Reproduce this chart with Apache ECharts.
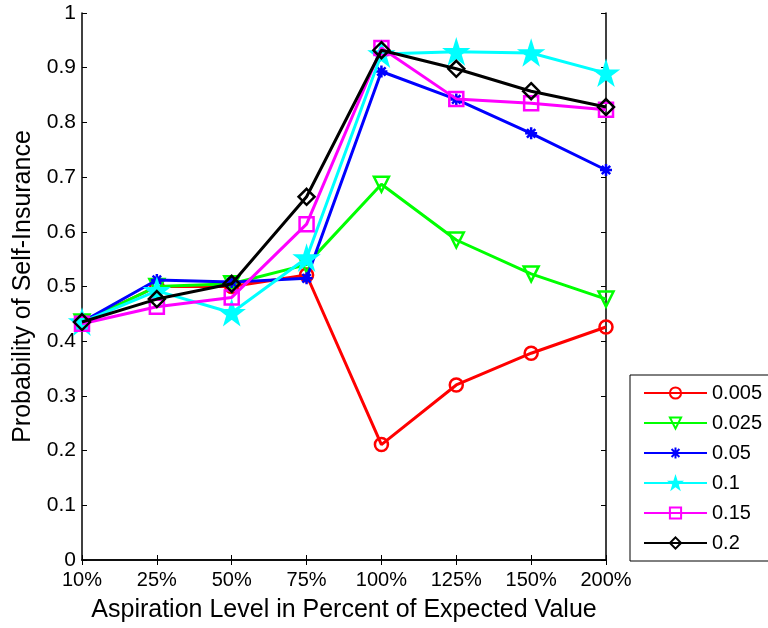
<!DOCTYPE html>
<html><head><meta charset="utf-8">
<script src="https://cdn.jsdelivr.net/npm/echarts@6/dist/echarts.min.js"></script>
<style>html,body{margin:0;padding:0;background:#fff}#c{width:768px;height:628px}</style>
</head><body><div id="c"></div>
<script>
var categories = ['10%','25%','50%','75%','100%','125%','150%','200%'];
var seriesNames = ['0.005','0.025','0.05','0.1','0.15','0.2'];
var s0005 = [0.435,0.500,0.500,0.521,0.211,0.320,0.378,0.426];
var s0025 = [0.435,0.500,0.505,0.540,0.687,0.585,0.523,0.477];
var s005  = [0.435,0.512,0.508,0.515,0.893,0.842,0.780,0.713];
var s01   = [0.435,0.492,0.452,0.552,0.925,0.929,0.927,0.890];
var s015  = [0.432,0.463,0.480,0.614,0.936,0.843,0.835,0.823];
var s02   = [0.435,0.477,0.505,0.664,0.932,0.898,0.857,0.828];
var yTicks = ['0','0.1','0.2','0.3','0.4','0.5','0.6','0.7','0.8','0.9','1'];

var colors = ['#ff0000','#00ff00','#0000ff','#00ffff','#ff00ff','#000000'];
var data = [s0005,s0025,s005,s01,s015,s02];
var starPath = 'path://M50,0L61.8,36.2L100,36.2L69.1,58.6L80.9,95.1L50,72.7L19.1,95.1L30.9,58.6L0,36.2L38.2,36.2Z';
var asterPath = 'path://M0,50L100,50M50,0L50,100M15,15L85,85M85,15L15,85';
var symbols = [
  {symbol:'circle', size:13, fill:'rgba(0,0,0,0)', rot:0},
  {symbol:'triangle', size:15, fill:'rgba(0,0,0,0)', rot:180},
  {symbol:asterPath, size:12, fill:'#0000ff', rot:0},
  {symbol:starPath, size:21, fill:'#00ffff', rot:0},
  {symbol:'rect', size:14, fill:'rgba(0,0,0,0)', rot:0},
  {symbol:'diamond', size:16, fill:'rgba(0,0,0,0)', rot:0}
];
var font = '"Liberation Sans", Arial, sans-serif';
var series = seriesNames.map(function(n,i){
  return {
    name:n, type:'line', data:data[i], xAxisIndex:0, yAxisIndex:0,
    symbol:symbols[i].symbol, symbolSize:symbols[i].size, symbolRotate:symbols[i].rot,
    showAllSymbol:true,
    lineStyle:{color:colors[i], width:3},
    itemStyle:{color:symbols[i].fill, borderColor:colors[i], borderWidth:2.5},
    emphasis:{disabled:true}, animation:false, z:2+i
  };
});
var chart = echarts.init(document.getElementById('c'), null, {renderer:'canvas'});
chart.setOption({
  animation:false,
  backgroundColor:'#fff',
  grid:{left:82, right:162, top:13, bottom:68, show:false},
  legend:{
    orient:'vertical', left:630, top:375,
    data:seriesNames,
    itemWidth:63, itemHeight:14, itemGap:10,
    padding:[8,20,8,13],
    borderColor:'#000', borderWidth:1, backgroundColor:'#fff',
    textStyle:{fontFamily:font, fontSize:20, color:'#000'}
  },
  xAxis:[{
    type:'category', data:categories, boundaryGap:false, position:'bottom',
    axisLine:{lineStyle:{color:'#000', width:1.5}},
    axisTick:{inside:true, length:5, lineStyle:{color:'#000'}},
    axisLabel:{fontFamily:font, fontSize:20, color:'#000', margin:10},
    splitLine:{show:false},
    name:'Aspiration Level in Percent of Expected Value', nameLocation:'middle', nameGap:38,
    nameTextStyle:{fontFamily:font, fontSize:25, color:'#000'}
  },{
    type:'category', data:categories, boundaryGap:false, position:'top',
    axisLine:{lineStyle:{color:'#000', width:1.5}},
    axisTick:{inside:true, length:5, lineStyle:{color:'#000'}},
    axisLabel:{show:false}, splitLine:{show:false}
  }],
  yAxis:[{
    type:'value', min:0, max:1, interval:0.1, position:'left',
    axisLine:{show:true, lineStyle:{color:'#000', width:1.5}},
    axisTick:{show:true, inside:true, length:5, lineStyle:{color:'#000'}},
    axisLabel:{fontFamily:font, fontSize:21, color:'#000', margin:6,
      formatter:function(v){ return yTicks[Math.round(v*10)]; }},
    splitLine:{show:false},
    name:'Probability of Self-Insurance', nameLocation:'middle', nameGap:46,
    nameTextStyle:{fontFamily:font, fontSize:25, color:'#000'}
  },{
    type:'value', min:0, max:1, interval:0.1, position:'right',
    axisLine:{show:true, lineStyle:{color:'#000', width:1.5}},
    axisTick:{show:true, inside:true, length:5, lineStyle:{color:'#000'}},
    axisLabel:{show:false}, splitLine:{show:false}
  }],
  series:series
});
</script></body></html>
